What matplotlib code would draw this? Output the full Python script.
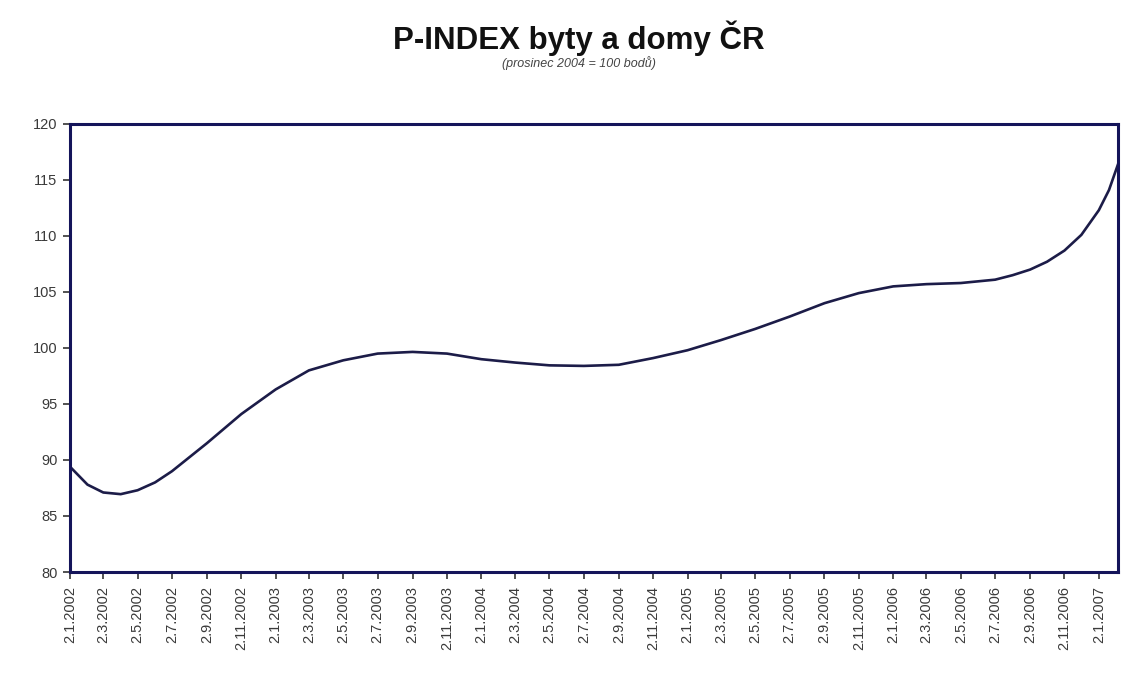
import matplotlib
matplotlib.use("Agg")
import matplotlib.pyplot as plt
import pandas as pd

# P-INDEX values (prosinec 2004 = 100)
dates = ["2.1.2002", "2.2.2002", "2.3.2002", "2.4.2002", "2.5.2002", "2.6.2002",
         "2.7.2002", "2.9.2002", "2.11.2002", "2.1.2003", "2.3.2003", "2.5.2003",
         "2.7.2003", "2.9.2003", "2.11.2003", "2.1.2004", "2.3.2004", "2.5.2004",
         "2.7.2004", "2.9.2004", "2.11.2004", "2.1.2005", "2.3.2005", "2.5.2005",
         "2.7.2005", "2.9.2005", "2.11.2005", "2.1.2006", "2.3.2006", "2.5.2006",
         "2.7.2006", "2.8.2006", "2.9.2006", "2.10.2006", "2.11.2006", "2.12.2006",
         "2.1.2007", "20.1.2007", "5.2.2007"]
values = [89.4, 87.8, 87.1, 86.95, 87.3, 88.0,
          89.0, 91.5, 94.1, 96.3, 98.0, 98.9,
          99.5, 99.65, 99.5, 99.0, 98.7, 98.45,
          98.4, 98.5, 99.1, 99.8, 100.7, 101.7,
          102.8, 104.0, 104.9, 105.5, 105.7, 105.8,
          106.1, 106.5, 107.0, 107.7, 108.7, 110.1,
          112.3, 114.1, 116.4]

tick_dates = ["2.%d.%d" % (m, y) for y in range(2002, 2007) for m in (1, 3, 5, 7, 9, 11)] + ["2.1.2007"]

x = pd.to_datetime(dates, format="%d.%m.%Y")
xt = pd.to_datetime(tick_dates, format="%d.%m.%Y")

plt.rcParams['font.family'] = ['Liberation Sans', 'DejaVu Sans']

fig = plt.figure(figsize=(11.31, 6.88), dpi=100)
ax = fig.add_axes([0.0619, 0.1686, 0.9266, 0.6512])

navy = "#14145a"
ax.plot(x, values, color="#1c1c48", linewidth=1.9, solid_joinstyle="round")

ax.set_xlim(x[0], x[-1])
ax.set_ylim(80, 120)
ax.set_yticks(range(80, 121, 5))
ax.set_xticks(xt)
ax.set_xticklabels(tick_dates, rotation=90, fontsize=10.5, color="#3a3a3a")
ax.tick_params(axis="y", labelsize=10.5, labelcolor="#3a3a3a", length=5, width=1.2,
               color="#333333", direction="out", pad=4)
ax.tick_params(axis="x", length=5, width=1.2, color="#333333", direction="out", pad=5)

for s in ax.spines.values():
    s.set_color(navy)
    s.set_linewidth(2.2)

fig.text(0.512, 0.945, "P-INDEX byty a domy ČR", ha="center", va="center",
         fontsize=22.5, fontweight="bold", color="#111111")
fig.text(0.512, 0.908, "(prosinec 2004 = 100 bodů)", ha="center", va="center",
         fontsize=9, style="italic", color="#444444")

fig.savefig("out.png", dpi=100)
plt.close(fig)
